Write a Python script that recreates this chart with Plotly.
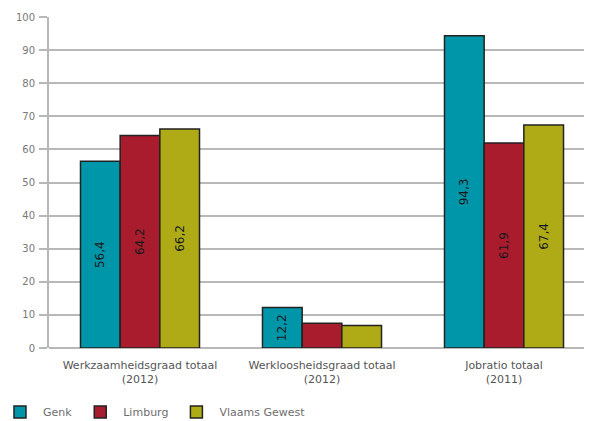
import plotly.graph_objects as go

categories = ["Werkzaamheidsgraad totaal<br>(2012)",
              "Werkloosheidsgraad totaal<br>(2012)",
              "Jobratio totaal<br>(2011)"]
series_names = ["Genk", "Limburg", "Vlaams Gewest"]
genk = [56.4, 12.2, 94.3]
limburg = [64.2, 7.5, 61.9]
vlaams = [66.2, 6.8, 67.4]
# which bars carry a value label in the original
show_label = {
    "Genk": [True, True, True],
    "Limburg": [True, False, True],
    "Vlaams Gewest": [True, False, True],
}
colors = {"Genk": "#0096A9", "Limburg": "#A81C2E", "Vlaams Gewest": "#AFAB17"}
y_ticks = list(range(0, 101, 10))


def fmt(v):
    return f"{v:.1f}".replace(".", ",")


fig = go.Figure()
for name, vals in zip(series_names, [genk, limburg, vlaams]):
    texts = [fmt(v) if s else "" for v, s in zip(vals, show_label[name])]
    fig.add_trace(go.Bar(
        name=name, x=categories, y=vals,
        text=texts, textposition="inside", textangle=-90,
        insidetextanchor="middle",
        insidetextfont=dict(family="DejaVu Sans", size=12, color="#1a1a1a"),
        marker=dict(color=colors[name], line=dict(color="#222222", width=1.5)),
        hoverinfo="x+y+name",
    ))

# the page body adds an 8px offset, so the figure is drawn 8px smaller
fig.update_layout(
    width=584, height=413,
    margin=dict(l=41, r=0, t=9, b=73, autoexpand=False),
    paper_bgcolor="white", plot_bgcolor="white",
    barmode="group", bargap=0.346, bargroupgap=0,
    font=dict(family="DejaVu Sans", size=10, color="#666666"),
    showlegend=True,
    legend=dict(orientation="h", x=-0.0958, xanchor="left", y=-0.193, yanchor="middle",
                font=dict(family="DejaVu Sans", size=11, color="#6e6e6e"),
                itemwidth=36, traceorder="normal"),
)
fig.update_xaxes(
    type="category", range=[-0.5, 2.4835], automargin=False,
    showline=False, showgrid=False, ticks="", ticklabelstandoff=9,
    tickfont=dict(family="DejaVu Sans", size=11, color="#555555"),
)
fig.update_yaxes(
    range=[0, 100], tickvals=y_ticks, automargin=False,
    showgrid=True, gridcolor="#b8b8b8", gridwidth=2,
    showline=True, linecolor="#b8b8b8", linewidth=2,
    ticks="outside", ticklen=8, tickcolor="#b8b8b8", tickwidth=2,
    ticklabelstandoff=2,
    zeroline=True, zerolinecolor="#b8b8b8", zerolinewidth=2,
    tickfont=dict(family="DejaVu Sans", size=10, color="#777777"),
)

fig.write_html("out.html")
